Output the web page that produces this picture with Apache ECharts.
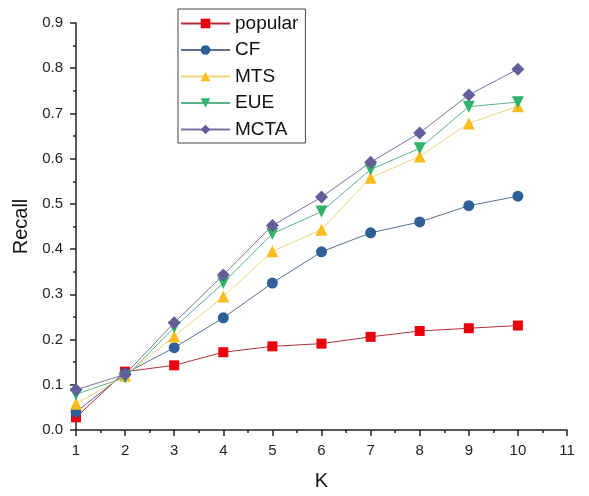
<!DOCTYPE html>
<html>
<head>
<meta charset="utf-8">
<script src="https://cdn.jsdelivr.net/npm/echarts@6/dist/echarts.min.js"></script>
<style>html,body{margin:0;padding:0;background:#fff;}#c{width:589px;height:496px;}</style>
</head>
<body>
<div id="c"></div>
<script>
var kValues = [1, 2, 3, 4, 5, 6, 7, 8, 9, 10];
var popular = [0.028, 0.129, 0.143, 0.172, 0.185, 0.191, 0.206, 0.219, 0.225, 0.231];
var cf      = [0.040, 0.125, 0.182, 0.248, 0.325, 0.394, 0.436, 0.460, 0.496, 0.517];
var mts     = [0.058, 0.120, 0.207, 0.295, 0.395, 0.443, 0.558, 0.605, 0.678, 0.716];
var eue     = [0.079, 0.116, 0.227, 0.325, 0.434, 0.483, 0.576, 0.623, 0.715, 0.725];
var mcta    = [0.089, 0.123, 0.237, 0.343, 0.452, 0.515, 0.592, 0.657, 0.741, 0.798];
var seriesNames = ['popular', 'CF', 'MTS', 'EUE', 'MCTA'];
var yTicks = ['0.0','0.1','0.2','0.3','0.4','0.5','0.6','0.7','0.8','0.9'];

function pairs(arr) { return kValues.map(function (k, i) { return [k, arr[i]]; }); }

var styles = [
  {data: popular, symbol: 'rect', size: 10, color: '#e8000c', line: '#b0303a', rot: 0},
  {data: cf, symbol: 'circle', size: 11, color: '#2e5f96', line: '#56708e', rot: 0},
  {data: mts, symbol: 'triangle', size: 12, color: '#fbbc1e', line: '#f2d27a', rot: 0},
  {data: eue, symbol: 'triangle', size: 12, color: '#31b26a', line: '#5db38a', rot: 180},
  {data: mcta, symbol: 'diamond', size: 13, color: '#635e9a', line: '#77749e', rot: 0}
];

var chart = echarts.init(document.getElementById('c'), null, {renderer: 'canvas'});
var font = 'Arial, "Liberation Sans", sans-serif';
chart.setOption({
  animation: false,
  backgroundColor: '#fff',
  grid: {left: 76, right: 22, top: 23, bottom: 62},
  legend: {
    orient: 'vertical',
    left: 178, top: 9,
    padding: [5, 7, 4, 2],
    itemWidth: 49, itemHeight: 12, itemGap: 7.5,
    borderColor: '#444', borderWidth: 1,
    textStyle: {fontFamily: font, fontSize: 19, color: '#111'},
    data: seriesNames
  },
  xAxis: {
    type: 'value', min: 1, max: 11, interval: 1,
    name: 'K', nameLocation: 'middle', nameGap: 41,
    nameTextStyle: {fontFamily: font, fontSize: 20, color: '#111'},
    axisLine: {show: true, lineStyle: {color: '#222', width: 1.5}},
    axisTick: {show: true, length: 6, lineStyle: {color: '#222', width: 1.5}},
    minorTick: {show: true, splitNumber: 2, length: 3, lineStyle: {color: '#222', width: 1.5}},
    axisLabel: {fontFamily: font, fontSize: 15, color: '#222', margin: 13},
    splitLine: {show: false}
  },
  yAxis: {
    type: 'value', min: 0, max: 0.9, interval: 0.1,
    name: 'Recall', nameLocation: 'middle', nameGap: 43, nameRotate: 90,
    nameTextStyle: {fontFamily: font, fontSize: 20, color: '#111'},
    axisLine: {show: true, lineStyle: {color: '#222', width: 1.5}},
    axisTick: {show: true, length: 6, lineStyle: {color: '#222', width: 1.5}},
    minorTick: {show: true, splitNumber: 2, length: 3, lineStyle: {color: '#222', width: 1.5}},
    axisLabel: {fontFamily: font, fontSize: 15, color: '#222', margin: 13,
      formatter: function (v) { var i = Math.round(v * 10); return yTicks[i] !== undefined ? yTicks[i] : v.toFixed(1); }},
    splitLine: {show: false}
  },
  series: styles.map(function (s, i) {
    return {
      name: seriesNames[i], type: 'line', data: pairs(s.data),
      symbol: s.symbol, symbolSize: s.size, symbolRotate: s.rot,
      showAllSymbol: true, clip: false,
      itemStyle: {color: s.color},
      lineStyle: {color: s.line, width: 1},
      z: 2 + i
    };
  })
});
</script>
</body>
</html>
